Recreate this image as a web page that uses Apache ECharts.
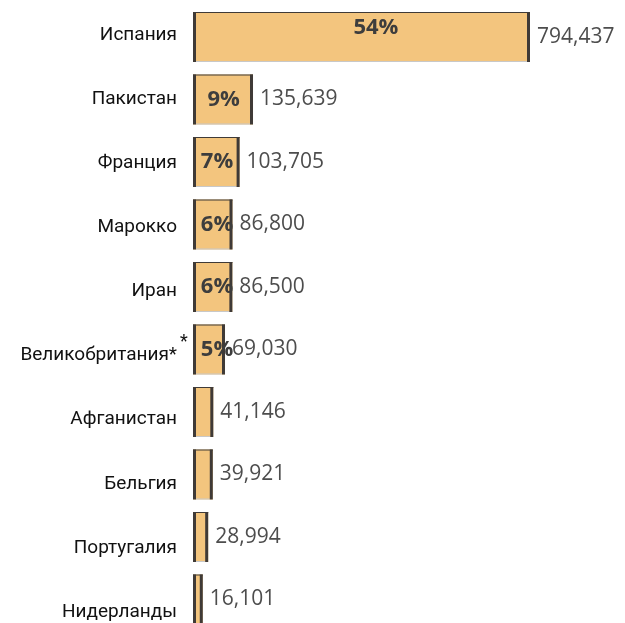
<!DOCTYPE html>
<html>
<head>
<meta charset="utf-8">
<script src="https://cdn.jsdelivr.net/npm/echarts@6/dist/echarts.min.js"></script>
<style>html,body{margin:0;padding:0;background:#fff}#c{width:625px;height:623px}</style>
</head>
<body>
<div id="c"></div>
<script>
var categories = ['Испания','Пакистан','Франция','Марокко','Иран','Великобритания','Афганистан','Бельгия','Португалия','Нидерланды'];
var values = [794437,135639,103705,86800,86500,69030,41146,39921,28994,16101];
var percents = [54,9,7,6,6,5,null,null,null,null];
var footnoted = ['Великобритания'];
var categoryIndex = categories.map(function(c, i){ return i; });

var FILL = '#f3c57e', DARK = '#3f3a37', LIGHT = '#c8c8c8';
var chart = echarts.init(document.getElementById('c'));

function renderBar(params, api) {
  var i = api.value(1);
  var v = api.value(0);
  var p0 = api.coord([0, i]);
  var p1 = api.coord([v, i]);
  var band = Math.abs(api.size([0, 1])[1]);
  var h = band * 0.8;
  var top = p0[1] - h / 2;
  var x0 = p0[0], x1 = p1[0] + 3, w = x1 - x0;
  var children = [
    {type:'rect', shape:{x:x0, y:top, width:w, height:h}, style:{fill:FILL}},
    {type:'rect', shape:{x:x0, y:top, width:w, height:1}, style:{fill:DARK}},
    {type:'rect', shape:{x:x0+3, y:top+h-1, width:Math.max(w-6,0), height:1}, style:{fill:LIGHT}},
    {type:'rect', shape:{x:x0, y:top, width:3, height:h}, style:{fill:DARK}},
    {type:'rect', shape:{x:x1-3, y:top, width:3, height:h}, style:{fill:DARK}},
    {type:'text', x:x1+7, y:p0[1], style:{text:echarts.format.addCommas(v), fill:'#4d4d4d', font:'21px "Open Sans"', textAlign:'left', textVerticalAlign:'middle'}}
  ];
  var pct = percents[params.dataIndex];
  if (pct != null) {
    var cx = (x0 + x1) / 2;
    var lx = Math.max(217, 217 + (cx - 217) * 1.1);
    var ly = w > 200 ? p0[1] - 9 : p0[1];
    children.push({type:'text', x:lx, y:ly, style:{text:pct + '%', fill:'#3d3d3d', font:'bold 22px "Open Sans"', textAlign:'center', textVerticalAlign:'middle'}});
  }
  return {type:'group', children:children};
}

function renderLabel(params, api) {
  var i = api.value(1);
  var p = api.coord([0, i]);
  var name = categories[params.dataIndex];
  var note = footnoted.indexOf(name) >= 0;
  var children = [{
    type:'text', x: p[0] - 16, y: p[1],
    style:{ text: note ? name + '*' : name, fill:'#111', font:'19px Roboto', textAlign:'right', textVerticalAlign:'middle' }
  }];
  if (note) {
    children.push({
      type:'text', x: p[0] - 13, y: p[1] - 13,
      style:{ text:'*', fill:'#111', font:'18px Roboto', textAlign:'left', textVerticalAlign:'middle' }
    });
  }
  return {type:'group', children:children};
}

chart.setOption({
  animation: false,
  grid: [
    {left: 193, top: 5.75, width: 420.4, height: 617.25},
    {left: 193, top: 3, width: 420.4, height: 620}
  ],
  xAxis: [
    {gridIndex:0, type:'value', min:0, max:1000000, show:false},
    {gridIndex:1, type:'value', min:0, max:1, show:false}
  ],
  yAxis: [
    {gridIndex:0, type:'value', inverse:true, min:-0.5, max:-0.5 + 617.25/62.5, show:false},
    {gridIndex:1, type:'value', inverse:true, min:-0.5, max:-0.5 + 620/64.1, show:false}
  ],
  series: [{
    type:'custom', xAxisIndex:0, yAxisIndex:0, clip:false,
    renderItem: renderBar,
    encode:{x:0, y:1},
    data: values.map(function(v, i){ return [v, categoryIndex[i]]; })
  }, {
    type:'custom', xAxisIndex:1, yAxisIndex:1, clip:false,
    renderItem: renderLabel,
    encode:{x:0, y:1},
    data: categoryIndex.map(function(i){ return [0, i]; })
  }]
});
</script>
</body>
</html>
